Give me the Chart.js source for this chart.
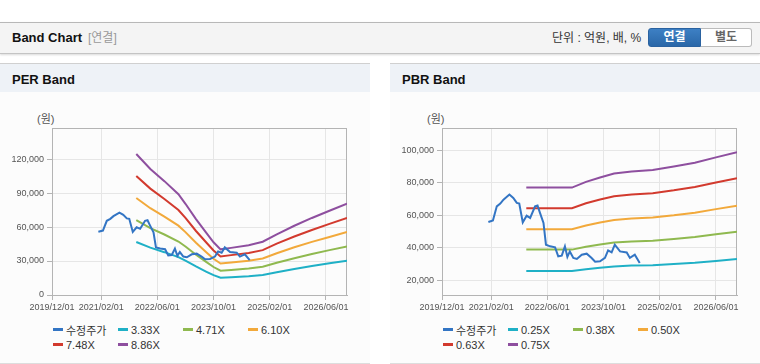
<!DOCTYPE html>
<html lang="ko">
<head>
<meta charset="utf-8">
<title>Band Chart</title>
<script src="https://cdn.jsdelivr.net/npm/chart.js@4.4.1/dist/chart.umd.min.js"></script>
<style>
    body { margin: 0; width: 760px; height: 364px; background: #fff; position: relative; overflow: hidden;
           font-family: "Liberation Sans", "Noto Sans CJK KR", sans-serif; }
    .top { position: absolute; left: 0; top: 22px; width: 760px; height: 30px; background: #f4f4f4;
           border-top: 1px solid #b8b8b8; border-bottom: 1px solid #c4c4c4; box-shadow: 0 1px 2px rgba(0,0,0,.15); }
    .top span { position: absolute; top: 0; line-height: 30px; }
    .top .title { left: 12px; font-size: 13px; font-weight: bold; color: #111; }
    .top .sub { left: 88px; font-size: 12px; color: #999; }
    .top .unit { left: 552px; font-size: 12px; color: #333; }
    .btns { position: absolute; left: 648px; top: 5px; display: flex; }
    .btn { width: 50px; height: 17px; line-height: 17px; text-align: center; font-size: 12px; font-weight: bold; }
    .btn.on { background: linear-gradient(#3d80c4, #2a67a8); color: #fff; border: 1px solid #2a62a0; border-radius: 3px 0 0 3px; width: 51px; }
    .btn.off { background: #fff; color: #666; border: 1px solid #bbb; border-left: none; border-radius: 0 3px 3px 0; }
    .panel { position: absolute; top: 63px; width: 370px; height: 299px; background: #fcfcfc;
             border-top: 1px solid #d0d0d0; border-bottom: 1px solid #ddd; }
    .panel .head { height: 28px; line-height: 32px; background: #eef2f7; padding-left: 12px;
                   font-size: 13px; font-weight: bold; color: #111; overflow: hidden; }
    .box { position: absolute; top: 100px; width: 360px; height: 215px; }
    .unitY { position: absolute; top: 110px; font-size: 11px; color: #555; }
    .legend { position: absolute; top: 322px; width: 270px; display: flex; flex-wrap: wrap; }
    .legend div { width: 65px; height: 15px; display: flex; align-items: center; font-size: 11px; color: #333; }
    .legend i { display: inline-block; width: 10px; height: 3px; margin-right: 3px; }
</style>
</head>
<body>

<div class="top">
    <span class="title">Band Chart</span>
    <span class="sub">[연결]</span>
    <span class="unit">단위 : 억원, 배, %</span>
    <div class="btns"><div class="btn on">연결</div><div class="btn off">별도</div></div>
</div>

<div class="panel" style="left:0"><div class="head">PER Band</div></div>
<div class="panel" style="left:390px"><div class="head">PBR Band</div></div>

<div class="unitY" style="left:37px">(원)</div>
<div class="unitY" style="left:427px">(원)</div>

<div class="box" style="left:0"><canvas id="perChart"></canvas></div>
<div class="box" style="left:390px"><canvas id="pbrChart"></canvas></div>

<div class="legend" id="perLegend" style="left:53px"></div>
<div class="legend" id="pbrLegend" style="left:443px"></div>

<script>
// x 축
const xStart = '2019/12/01';
const xEnd = '2026/12/01';
const xTickLabels = ['2019/12/01', '2021/02/01', '2022/06/01', '2023/10/01', '2025/02/01', '2026/06/01'];

// 수정주가
const priceDates = ['2021/01/07', '2021/02/16', '2021/03/19', '2021/04/19', '2021/05/16', '2021/07/07', '2021/08/10',
    '2021/09/10', '2021/10/01', '2021/11/01', '2021/12/04', '2022/01/04', '2022/02/16', '2022/03/07', '2022/03/28',
    '2022/04/28', '2022/05/19', '2022/06/25', '2022/08/07', '2022/09/04', '2022/10/04', '2022/11/01', '2022/11/22',
    '2022/12/13', '2023/01/13', '2023/02/13', '2023/03/25', '2023/05/07', '2023/06/19', '2023/07/19', '2023/09/01',
    '2023/10/13', '2023/11/10', '2023/12/10', '2024/01/07', '2024/02/22', '2024/04/19', '2024/05/16', '2024/06/28',
    '2024/08/10'];
const priceValues = [55900, 56900, 65500, 67200, 69600, 72700, 70700, 67600, 67200, 55700, 59800, 58400, 65500, 66000,
    61500, 55300, 42000, 41000, 40400, 34900, 35300, 41000, 34500, 37900, 33900, 33300, 35900, 36500, 33900, 31600,
    31800, 33900, 38500, 37300, 42000, 37900, 37300, 33900, 35900, 30800];

// PER 밴드
const perDates = ['2021/12/01', '2022/04/01', '2022/08/01', '2022/12/01', '2023/02/01', '2023/05/01', '2023/08/01',
    '2023/10/01', '2023/12/01', '2024/03/01', '2024/08/01', '2024/12/01', '2025/04/01', '2025/09/01', '2026/02/01',
    '2026/07/01', '2026/12/01'];
const perLabels = ['3.33X', '4.71X', '6.10X', '7.48X', '8.86X'];
const per333 = [46800, 41800, 37800, 33400, 30300, 25200, 20500, 17500, 15200, 15700, 16500, 17600, 20100, 23000, 25600, 28000, 30300];
const per471 = [66100, 59100, 53400, 47200, 42800, 35600, 29000, 24700, 21400, 22100, 23300, 25000, 28500, 32500, 36200, 39600, 42900];
const per610 = [85600, 76600, 69200, 61200, 55500, 46100, 37600, 32000, 27800, 28700, 30200, 32300, 36900, 42100, 46900, 51200, 55600];
const per748 = [105000, 93900, 84800, 75000, 68000, 56500, 46100, 39300, 34000, 35200, 37000, 39600, 45300, 51600, 57400, 62800, 68100];
const per886 = [124400, 111200, 100500, 88900, 80500, 67000, 54600, 46500, 40300, 41600, 43900, 47000, 53600, 61100, 68000, 74400, 80700];
const perYTicks = [0, 30000, 60000, 90000, 120000];

// PBR 밴드
const pbrDates = ['2021/12/01', '2023/01/01', '2023/05/01', '2023/09/01', '2024/01/01', '2024/06/01', '2024/12/01',
    '2025/06/01', '2025/12/01', '2026/06/01', '2026/12/01'];
const pbrLabels = ['0.25X', '0.38X', '0.50X', '0.63X', '0.75X'];
const pbr025 = [25900, 25900, 27000, 27900, 28700, 29200, 29500, 30200, 31000, 32100, 33300];
const pbr038 = [39000, 39000, 40800, 42100, 43400, 44000, 44500, 45500, 46700, 48400, 49900];
const pbr050 = [51500, 51500, 53800, 55600, 57200, 58000, 58700, 60000, 61600, 63800, 65900];
const pbr063 = [64400, 64400, 67400, 69700, 71700, 72800, 73600, 75300, 77300, 80100, 82700];
const pbr075 = [77000, 77000, 80500, 83200, 85600, 86900, 87800, 89900, 92200, 95500, 98600];
const pbrYTicks = [20000, 40000, 60000, 80000, 100000];

const priceLabel = '수정주가';
const colors = ['#3375c4', '#1fb0c6', '#8fb94f', '#f2a93b', '#d23a2e', '#8e4f9f'];

function toMonth(s) {
    const [y, m, d] = s.split('/').map(Number);
    return (y * 12 + m) - (2019 * 12 + 12) + (d - 1) / 30;
}

function points(dates, values) {
    return dates.map((d, i) => ({ x: toMonth(d), y: values[i] }));
}

const frame = {
    id: 'frame',
    beforeDatasetsDraw(chart) {
        const { ctx, chartArea: a } = chart;
        ctx.save();
        ctx.strokeStyle = '#b4b4b4';
        ctx.lineWidth = 1;
        ctx.strokeRect(Math.round(a.left) + 0.5, Math.round(a.top) + 0.5, Math.round(a.width) - 1, Math.round(a.height));
        ctx.restore();
    }
};

function dibujar(id, legendId, bandDates, bands, labels, yMin, yMax, yTicks) {
    const series = [points(priceDates, priceValues)].concat(bands.map(b => points(bandDates, b)));
    const names = [priceLabel].concat(labels);

    new Chart(document.getElementById(id), {
        type: 'line',
        data: {
            datasets: series.map((s, i) => ({
                label: names[i],
                data: s,
                borderColor: colors[i],
                borderWidth: 2,
                pointRadius: 0,
                fill: false,
                tension: 0
            }))
        },
        options: {
            responsive: true,
            maintainAspectRatio: false,
            animation: false,
            layout: { padding: { top: 28, right: 13, left: 0, bottom: 0 } },
            plugins: { legend: { display: false }, tooltip: { enabled: false } },
            scales: {
                x: {
                    type: 'linear',
                    min: toMonth(xStart),
                    max: toMonth(xEnd),
                    afterBuildTicks: axis => { axis.ticks = xTickLabels.map(t => ({ value: toMonth(t) })); },
                    afterFit: axis => { axis.height = 20; },
                    grid: { color: '#e6e6e6', tickColor: '#b4b4b4', tickLength: 5 },
                    border: { color: '#b4b4b4' },
                    ticks: {
                        autoSkip: false,
                        maxRotation: 0,
                        padding: 2,
                        color: '#555',
                        font: { size: 9, family: 'Liberation Sans' },
                        callback: (v, i) => xTickLabels[i]
                    }
                },
                y: {
                    min: yMin,
                    max: yMax,
                    afterBuildTicks: axis => { axis.ticks = yTicks.map(v => ({ value: v })); },
                    afterFit: axis => { axis.width = 52; },
                    grid: { color: '#e6e6e6', tickColor: '#b4b4b4', tickLength: 5 },
                    border: { color: '#b4b4b4' },
                    ticks: {
                        padding: 3,
                        color: '#555',
                        font: { size: 9, family: 'Liberation Sans' },
                        callback: v => Number(v).toLocaleString('en-US')
                    }
                }
            }
        },
        plugins: [frame]
    });

    const legend = document.getElementById(legendId);
    names.forEach((n, i) => {
        const item = document.createElement('div');
        item.innerHTML = `<i style="background:${colors[i]}"></i>${n}`;
        legend.appendChild(item);
    });
}

dibujar('perChart', 'perLegend', perDates, [per333, per471, per610, per748, per886], perLabels, 0, 147400, perYTicks);
dibujar('pbrChart', 'pbrLegend', pbrDates, [pbr025, pbr038, pbr050, pbr063, pbr075], pbrLabels, 11200, 113500, pbrYTicks);
</script>
</body>
</html>
